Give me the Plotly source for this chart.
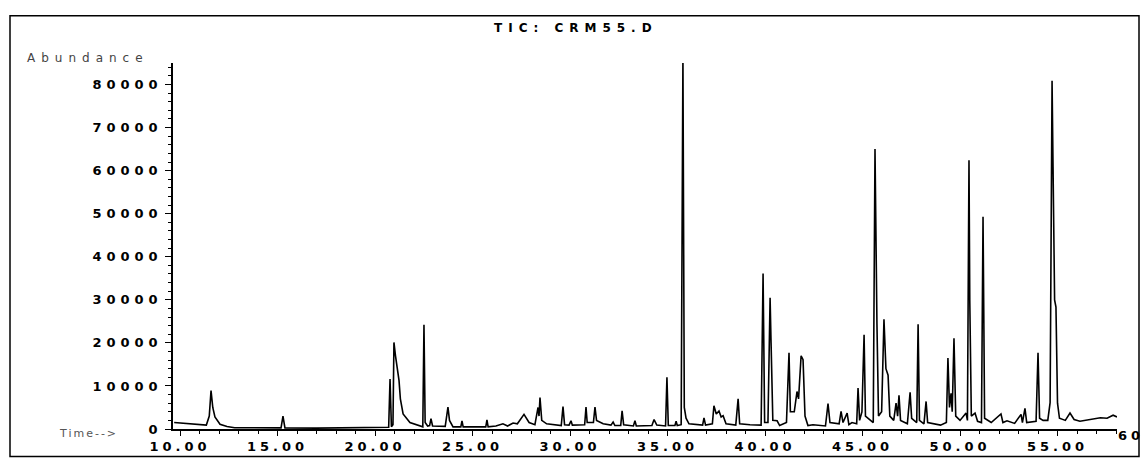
import plotly.graph_objects as go

# Retention time (min) and abundance
time_min = [
    9.70, 10.20, 10.80, 11.35, 11.50, 11.59, 11.68, 11.79, 12.05, 12.41, 12.80, 14.00,
    15.18, 15.28, 15.38, 17.00, 19.00, 20.60, 20.70, 20.77, 20.84, 20.92, 20.97, 21.05,
    21.13, 21.23, 21.30, 21.44, 21.79, 22.31, 22.45, 22.51, 22.57, 22.70, 22.80, 22.87,
    22.95, 23.60, 23.74, 23.82, 24.00, 24.40, 24.46, 24.52, 25.68, 25.74, 25.80, 26.20,
    26.56, 26.80, 27.08, 27.30, 27.64, 27.90, 28.20, 28.36, 28.41, 28.46, 28.55, 28.80,
    29.55, 29.64, 29.72, 29.95, 30.05, 30.12, 30.75, 30.82, 30.88, 31.20, 31.28, 31.36,
    31.70, 32.10, 32.21, 32.30, 32.60, 32.67, 32.75, 33.25, 33.33, 33.40, 34.20, 34.31,
    34.45, 34.90, 34.97, 35.04, 35.38, 35.44, 35.50, 35.70, 35.79, 35.86, 35.95, 36.10,
    36.80, 36.87, 36.95, 37.30, 37.38, 37.50, 37.64, 37.75, 37.85, 38.00, 38.50, 38.62,
    38.70, 39.23, 39.80, 39.90, 39.98, 40.15, 40.26, 40.31, 40.40, 40.62, 40.75, 41.10,
    41.23, 41.30, 41.50, 41.64, 41.72, 41.85, 41.95, 42.05, 42.20, 42.46, 43.10, 43.23,
    43.33, 43.80, 43.90, 44.00, 44.21, 44.30, 44.46, 44.70, 44.77, 44.85, 44.97, 45.08,
    45.15, 45.55, 45.64, 45.74, 45.82, 45.98, 46.05, 46.10, 46.20, 46.31, 46.40, 46.60,
    46.72, 46.80, 46.87, 46.95, 47.30, 47.44, 47.52, 47.78, 47.85, 47.92, 48.15, 48.26,
    48.34, 48.72, 49.00, 49.30, 49.38, 49.46, 49.54, 49.60, 49.64, 49.69, 49.78, 50.00,
    50.31, 50.38, 50.46, 50.50, 50.58, 50.77, 50.90, 51.10, 51.18, 51.26, 51.60, 52.10,
    52.20, 52.41, 52.80, 53.13, 53.20, 53.33, 53.42, 53.90, 54.00, 54.08, 54.26, 54.50,
    54.62, 54.72, 54.77, 54.85, 54.92, 55.00, 55.10, 55.40, 55.64, 55.85, 56.15, 56.82,
    57.20, 57.54, 57.85, 58.05,
]
abundance = [
    1500, 1300, 1100, 900, 3000, 8900, 5000, 2800, 1100, 600, 300, 250,
    250, 3000, 250, 200, 250, 300, 400, 11600, 500, 1000, 20100, 17000,
    14300, 11300, 7000, 3500, 1500, 600, 500, 24200, 1500, 700, 800, 2400,
    700, 600, 5100, 2000, 500, 500, 1900, 500, 500, 2100, 500, 700,
    1200, 700, 1400, 1200, 3400, 1500, 1000, 5000, 3000, 7300, 2000, 1200,
    800, 5200, 1000, 900, 1900, 900, 1000, 5100, 1500, 1500, 5100, 2000,
    1200, 900, 1600, 800, 800, 4200, 1000, 700, 1900, 700, 800, 2200,
    900, 700, 12000, 800, 800, 1800, 800, 1000, 86500, 5000, 2500, 1200,
    900, 2600, 900, 1200, 5400, 3500, 4200, 2800, 3100, 1200, 900, 7000,
    1200, 1000, 900, 36100, 1500, 1500, 30500, 20000, 2000, 1900, 800, 1500,
    17700, 4000, 4000, 8700, 7000, 17000, 16100, 3000, 800, 1000, 700, 5900,
    1500, 1200, 4100, 1500, 3700, 1000, 1500, 1200, 9500, 2000, 4000, 21900,
    3000, 1500, 65000, 24400, 3000, 4000, 21200, 25500, 14000, 12500, 3000, 2000,
    6000, 3000, 7800, 2000, 1200, 8500, 2500, 1500, 24300, 2000, 1200, 6400,
    1500, 1200, 900, 1500, 16500, 5000, 8300, 4000, 12900, 21100, 3000, 2000,
    3700, 2000, 62400, 30000, 3000, 3700, 1800, 1500, 49300, 2500, 1500, 3500,
    1500, 1900, 1300, 3400, 1500, 4800, 1500, 1800, 17700, 2500, 2000, 2000,
    6100, 80900, 60900, 30000, 28300, 6000, 2500, 2000, 3700, 2200, 1800, 2300,
    2600, 2500, 3200, 2800,
]

x_tick_vals = [10, 15, 20, 25, 30, 35, 40, 45, 50, 55]
x_tick_text = ["10.00", "15.00", "20.00", "25.00", "30.00", "35.00", "40.00", "45.00", "50.00", "55.00"]
y_tick_vals = [0, 10000, 20000, 30000, 40000, 50000, 60000, 70000, 80000]
y_tick_text = ["0", "10000", "20000", "30000", "40000", "50000", "60000", "70000", "80000"]

title_text = "TIC: CRM55.D"
y_label = "Abundance"
x_label = "Time-->"
edge_label = "60"

FONT = "DejaVu Sans"
L, R, T, B = 173, 26, 63, 32
W, H = 1143, 466
PW, PH = W - L - R, H - T - B


def px_x(p):
    return (p - L) / PW


def px_y(p):
    return (H - B - p) / PH


fig = go.Figure()
fig.add_trace(go.Scatter(
    x=time_min, y=abundance, mode="lines",
    line=dict(color="black", width=1.6), hoverinfo="skip", showlegend=False,
))

fig.update_layout(
    width=W, height=H,
    margin=dict(l=L, r=R, t=T, b=B, pad=0),
    paper_bgcolor="white", plot_bgcolor="white",
    font=dict(family=FONT, color="black"),
    xaxis=dict(
        range=[9.64, 58.05], showgrid=False, zeroline=False,
        showline=True, linecolor="black", linewidth=1.5,
        tickmode="array", tickvals=x_tick_vals, ticktext=x_tick_text,
        ticks="outside", ticklen=5, tickwidth=1.2, tickcolor="black",
        tickfont=dict(family=FONT, size=13, weight="bold"),
        minor=dict(dtick=1, ticks="outside", ticklen=3, tickcolor="black", tickwidth=1),
    ),
    yaxis=dict(
        range=[0, 85000], showgrid=False, zeroline=False,
        showline=True, linecolor="black", linewidth=1.5,
        tickmode="array", tickvals=y_tick_vals, ticktext=y_tick_text,
        ticks="outside", ticklen=6, tickwidth=1.2, tickcolor="black",
        tickfont=dict(family=FONT, size=13, weight="bold"),
        ticklabelstandoff=0,
        minor=dict(dtick=2000, ticks="outside", ticklen=3, tickcolor="black", tickwidth=1),
    ),
    shapes=[dict(
        type="rect", xref="paper", yref="paper",
        x0=px_x(10), x1=px_x(1139), y0=px_y(462), y1=px_y(15),
        line=dict(color="black", width=1.5), fillcolor="rgba(0,0,0,0)", layer="above",
    )],
    annotations=[
        dict(text=title_text, xref="paper", yref="paper", x=px_x(576), y=px_y(28),
             xanchor="center", yanchor="middle", showarrow=False,
             font=dict(family=FONT, size=12, weight="bold", color="black")),
        dict(text=y_label, xref="paper", yref="paper", x=px_x(88), y=px_y(58),
             xanchor="center", yanchor="middle", showarrow=False,
             font=dict(family=FONT, size=12, color="#444444")),
        dict(text=x_label, xref="paper", yref="paper", x=px_x(88), y=px_y(439),
             xanchor="center", yanchor="middle", showarrow=False,
             font=dict(family=FONT, size=11, color="#555555")),
        dict(text=edge_label, xref="paper", yref="paper", x=px_x(1142), y=px_y(441),
             xanchor="right", yanchor="middle", showarrow=False,
             font=dict(family=FONT, size=13, weight="bold", color="black")),
    ],
)

post = """
document.body.style.margin = '0';
document.body.style.padding = '0';
var sp = {'.xtick text': '4px', '.ytick text': '5px'};
Object.keys(sp).forEach(function(sel){
  document.querySelectorAll(sel).forEach(function(e){ e.style.letterSpacing = sp[sel]; });
});
var ann = document.querySelectorAll('.annotation-text');
var annsp = ['6px', '6px', '2px', '4px'];
ann.forEach(function(e, i){ e.style.letterSpacing = annsp[i] || '3px'; });
"""
fig.write_html("out.html", post_script=post, config={"displayModeBar": False})
